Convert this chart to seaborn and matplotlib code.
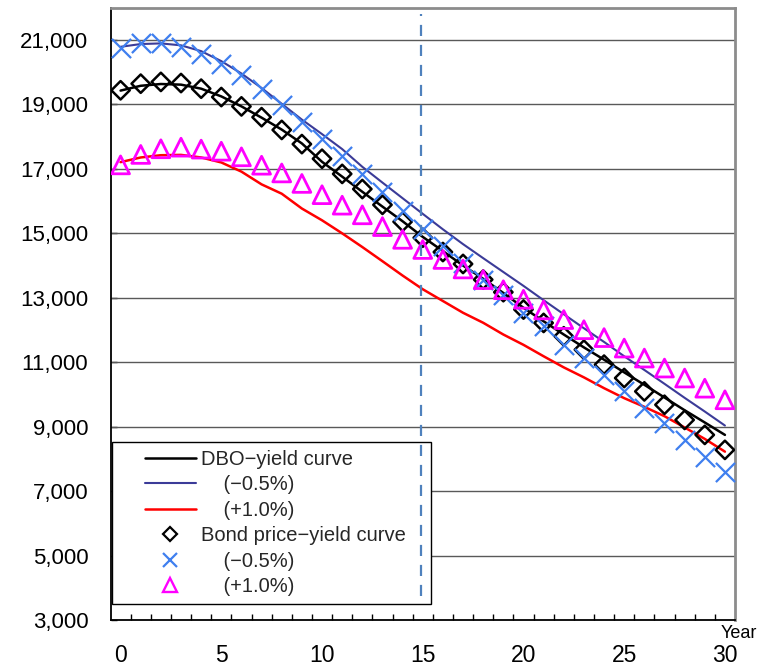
import matplotlib
matplotlib.use("Agg")
import matplotlib.pyplot as plt
import seaborn as sns
from matplotlib.lines import Line2D
from matplotlib.legend_handler import HandlerLine2D
from matplotlib.ticker import FuncFormatter, FixedLocator

# ---------------- data ----------------
years = list(range(31))

dbo_base = [19430, 19580, 19635, 19615, 19490, 19250, 18940, 18590, 18220, 17790,
            17220, 16760, 16290, 15830, 15375, 14890, 14450, 14000, 13590, 13150,
            12690, 12270, 11860, 11460, 11080, 10685, 10300, 9905, 9510, 9130, 8745]
dbo_m05 = [20790, 20875, 20895, 20835, 20655, 20345, 19960, 19510, 19020, 18530,
           18080, 17615, 17065, 16575, 16090, 15605, 15125, 14665, 14230, 13800,
           13370, 12925, 12490, 12055, 11630, 11185, 10760, 10330, 9895, 9470, 9035]
dbo_p10 = [17210, 17355, 17425, 17435, 17355, 17200, 16915, 16520, 16230, 15770,
           15405, 15000, 14575, 14135, 13690, 13265, 12900, 12535, 12225, 11860,
           11540, 11185, 10840, 10530, 10195, 9885, 9615, 9325, 8975, 8620, 8225]

bond_base = [19440, 19645, 19700, 19665, 19490, 19230, 18940, 18605, 18210, 17770,
             17315, 16845, 16375, 15885, 15360, 14865, 14420, 14050, 13565, 13175,
             12635, 12220, 11805, 11390, 10925, 10510, 10095, 9680, 9210, 8745, 8280]
bond_m05 = [20740, 20895, 20895, 20770, 20565, 20270, 19905, 19490, 18970, 18450,
            17940, 17415, 16845, 16270, 15700, 15125, 14605, 14085, 13565, 13095,
            12530, 12115, 11545, 11130, 10610, 10095, 9575, 9110, 8590, 8070, 7605]
bond_p10 = [17125, 17450, 17625, 17675, 17615, 17550, 17375, 17115, 16875, 16550,
            16200, 15875, 15575, 15210, 14815, 14500, 14190, 13895, 13565, 13250,
            12955, 12625, 12325, 12010, 11765, 11440, 11130, 10820, 10510, 10195, 9835]

y_ticks = list(range(3000, 22000, 2000))
x_major = [0, 5, 10, 15, 20, 25, 30]
x_minor = [k + 0.5 for k in range(30)]
marker_year = 14.93

labels = ["DBO\u2212yield curve", "    (\u22120.5%)", "    (+1.0%)",
          "Bond price\u2212yield curve   ", "    (\u22120.5%)", "    (+1.0%)"]

# ---------------- style ----------------
sns.set_theme(style="white")
plt.rcParams['font.family'] = ['Liberation Sans', 'DejaVu Sans']
plt.rcParams['axes.unicode_minus'] = True

C_BLACK = "#000000"
C_NAVY = "#3B3B98"
C_RED = "#FF0000"
C_BLUE = "#3F7FEF"
C_MAG = "#FF00FF"
C_DASH = "#4F81BD"

fig = plt.figure(figsize=(7.62, 6.68), dpi=100)
ax = fig.add_axes([110.5 / 762, 1 - 620 / 668, (735 - 110.5) / 762, (620 - 7.8) / 668])
ax.set_facecolor("white")

# gridlines
for yv in y_ticks[1:]:
    ax.axhline(yv, color="#595959", lw=1.0, zorder=1)

# lines
sns.lineplot(x=years, y=dbo_m05, color=C_NAVY, lw=1.5, ax=ax, zorder=3)
sns.lineplot(x=years, y=dbo_p10, color=C_RED, lw=1.8, ax=ax, zorder=3)
sns.lineplot(x=years, y=dbo_base, color=C_BLACK, lw=1.8, ax=ax, zorder=3)

# markers
sns.scatterplot(x=years, y=bond_base, marker="D", s=88, facecolors="none",
                edgecolors=C_BLACK, linewidths=1.8, ax=ax, zorder=4)
sns.scatterplot(x=years, y=bond_m05, marker="x", s=190, color=C_BLUE,
                linewidths=1.6, ax=ax, zorder=5)
sns.scatterplot(x=years, y=bond_p10, marker="^", s=165, facecolors="none",
                edgecolors=C_MAG, linewidths=2.0, ax=ax, zorder=5)

# dashed vertical
ax.vlines(marker_year, 3750, 21800, colors=C_DASH, linestyles=(0, (5, 4)),
          lw=1.6, zorder=7)

ax.set_xlim(-0.5, 30.5)
ax.set_ylim(3000, 22000)

# ticks
ax.yaxis.set_major_locator(FixedLocator(y_ticks))
ax.yaxis.set_major_formatter(FuncFormatter(lambda v, p: f"{int(v):,}"))
ax.tick_params(axis="y", which="major", direction="in", length=4, width=1,
               color="black", pad=16, labelsize=16, left=True, right=False)
ax.xaxis.set_major_locator(FixedLocator(x_major))
ax.xaxis.set_minor_locator(FixedLocator(x_minor))
ax.tick_params(axis="x", which="major", length=0, pad=17.5, labelsize=16.5)
ax.tick_params(axis="x", which="minor", direction="in", length=4, width=1,
               color="black", bottom=True, top=False)
for lab in ax.get_yticklabels() + ax.get_xticklabels():
    lab.set_color("black")

for side in ["left", "bottom"]:
    ax.spines[side].set_color("black")
    ax.spines[side].set_linewidth(1.3)
for side in ["top", "right"]:
    ax.spines[side].set_color("#8C8C8C")
    ax.spines[side].set_linewidth(2)

ax.set_xlabel("")
ax.set_ylabel("")
ax.text(1.0064, -0.0215, "Year", transform=ax.transAxes, ha="center", va="center",
        fontsize=13, color="black")

# legend
handles = [
    Line2D([], [], color=C_BLACK, lw=1.8),
    Line2D([], [], color=C_NAVY, lw=1.5),
    Line2D([], [], color=C_RED, lw=1.8),
    Line2D([], [], ls="none", marker="D", ms=7, mfc="none", mec=C_BLACK, mew=1.6),
    Line2D([], [], ls="none", marker="x", ms=10.5, color=C_BLUE, mew=1.6),
    Line2D([], [], ls="none", marker="^", ms=9.5, mfc="none", mec=C_MAG, mew=1.7),
]
leg = ax.legend(handles, labels, loc="upper left", bbox_to_anchor=(0.0024, 0.2908),
                borderaxespad=0, fontsize=14.5, frameon=True, fancybox=False,
                framealpha=1, edgecolor="black", handlelength=3.75, handletextpad=0.28,
                labelspacing=0.32, borderpad=0.4, numpoints=1,
                handler_map={Line2D: HandlerLine2D(xpad=1.25)})
leg.get_frame().set_linewidth(1.0)
leg.set_zorder(6)

fig.savefig("out.png", dpi=100)
